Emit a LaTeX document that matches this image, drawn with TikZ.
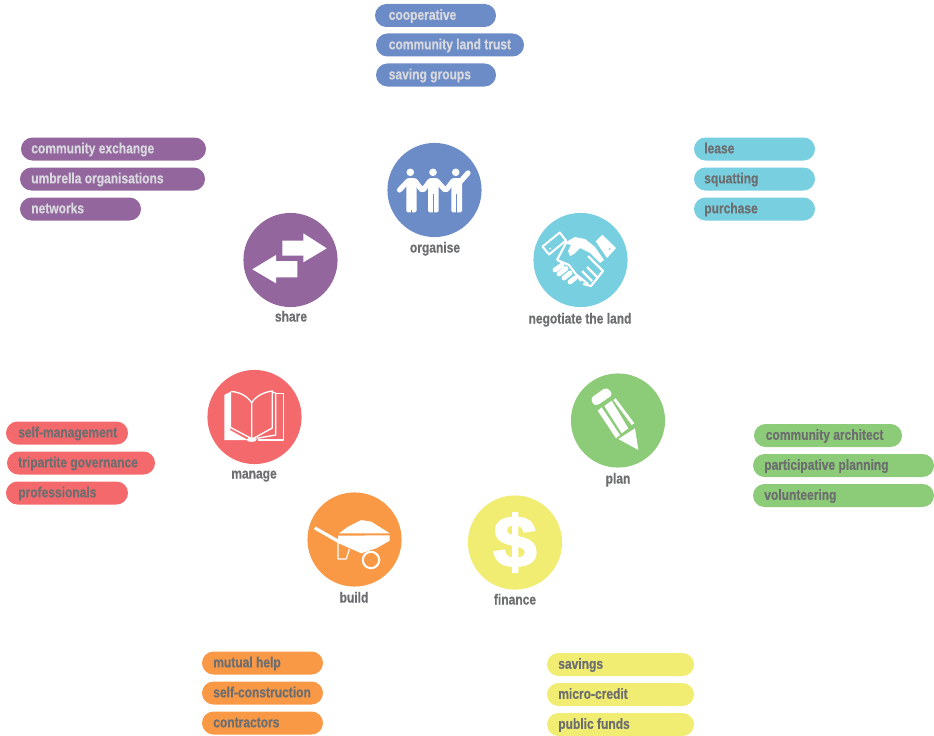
\documentclass[tikz,border=0pt]{standalone}
\usepackage{fontspec}
\setmainfont{Liberation Sans}[FakeStretch=0.82,BoldFeatures={FakeBold=0.5}]
\newfontfamily\dolfont{Liberation Sans}[FakeStretch=1.08,BoldFeatures={FakeBold=3}]
\definecolor{cblue}{HTML}{6C8CC8}
\definecolor{ccyan}{HTML}{78CFE0}
\definecolor{cpurple}{HTML}{93679E}
\definecolor{cred}{HTML}{F46A6C}
\definecolor{cgreen}{HTML}{8CCB78}
\definecolor{corange}{HTML}{F99845}
\definecolor{cyellow}{HTML}{F1EC72}
\definecolor{tgray}{HTML}{6D6E70}
\definecolor{tlight}{HTML}{D8D8DE}
\tikzset{
  disc/.style={circle,inner sep=0pt,minimum size=70.6pt},
  lbl/.style={font=\bfseries\fontsize{11}{12}\selectfont,text=tgray,inner sep=0pt,anchor=base},
  pilltext/.style={font=\bfseries\fontsize{11}{12}\selectfont,inner sep=0pt,anchor=base west},
  pillbar/.style={rounded corners=8.6pt,line width=0pt},
  ic/.style={fill=white,draw=none},
  il/.style={draw=white,line width=1pt,fill=none,line join=round},
  limb/.style={draw=white,line width=3.9pt,line cap=round},
}
\newcommand{\pill}[8]{% name, x0, x1, ycenter, colour, text colour, text x, text
  \path[pillbar,fill=#5] (#2,#4-11.5) rectangle (#3,#4+11.5);
  \node[pilltext,text=#6] (#1) at (#7,#4+4.3) {#8};
}
\begin{document}
\begin{tikzpicture}[x=0.75pt,y=-0.75pt]
\useasboundingbox (0,0) rectangle (934,735);
% discs
\node[disc,fill=cblue] (org) at (434.5,190) {};
\node[disc,fill=ccyan] (neg) at (580.5,260) {};
\node[disc,fill=cpurple] (sha) at (290.5,260) {};
\node[disc,fill=cred] (man) at (254.5,417) {};
\node[disc,fill=cgreen] (pla) at (618,420.5) {};
\node[disc,fill=corange] (bui) at (354.5,539.5) {};
\node[disc,fill=cyellow] (fin) at (515,542.5) {};
% captions
\node[lbl] (lorg) at (435,252.5) {organise};
\node[lbl] (lneg) at (580,323.5) {negotiate the land};
\node[lbl] (lsha) at (291,321.5) {share};
\node[lbl] (lman) at (254,478.5) {manage};
\node[lbl] (lpla) at (618,483.5) {plan};
\node[lbl] (lbui) at (354,602.5) {build};
\node[lbl] (lfin) at (515,604.5) {finance};
% pills: blue
\pill{p1}{375}{496}{15.5}{cblue}{tlight}{388.5}{cooperative}
\pill{p2}{376}{524}{45}{cblue}{tlight}{388.5}{community land trust}
\pill{p3}{376}{496}{75}{cblue}{tlight}{388.5}{saving groups}
% cyan
\pill{p4}{694}{815}{149}{ccyan}{tgray}{704}{lease}
\pill{p5}{694}{815}{179}{ccyan}{tgray}{704}{squatting}
\pill{p6}{694}{815}{209}{ccyan}{tgray}{704}{purchase}
% purple
\pill{p7}{21}{206}{149}{cpurple}{tlight}{31}{community exchange}
\pill{p8}{20}{205}{179}{cpurple}{tlight}{31}{umbrella organisations}
\pill{p9}{20}{141}{209}{cpurple}{tlight}{31}{networks}
% red
\pill{p10}{6}{128}{433}{cred}{tgray}{18}{self-management}
\pill{p11}{7}{155}{463}{cred}{tgray}{18}{tripartite governance}
\pill{p12}{6}{128}{493}{cred}{tgray}{18}{professionals}
% green
\pill{p13}{754}{902}{435.5}{cgreen}{tgray}{765.5}{community architect}
\pill{p14}{753}{934}{465.5}{cgreen}{tgray}{764}{participative planning}
\pill{p15}{753}{934}{495.5}{cgreen}{tgray}{764}{volunteering}
% orange
\pill{p16}{202}{323}{663}{corange}{tgray}{213}{mutual help}
\pill{p17}{202}{323}{693}{corange}{tgray}{213}{self-construction}
\pill{p18}{202}{323}{723}{corange}{tgray}{213}{contractors}
% yellow
\pill{p19}{547}{694}{664.5}{cyellow}{tgray}{558}{savings}
\pill{p20}{547}{694}{694.5}{cyellow}{tgray}{558}{micro-credit}
\pill{p21}{547}{694}{724.5}{cyellow}{tgray}{558}{public funds}
% icon: organise
\begin{scope}[shift={(388,160)}]
\foreach \h in {22.3,45,67.7}{\fill[white] (\h,12.3) circle (3.8);}
\path[ic] (18.3,20) [rounded corners=1pt] -- (20,18) -- (27,18) -- (28.5,20) -- (28.5,52.3) -- (18.3,52.3) -- cycle;
\path[ic] (40,20) [rounded corners=1pt] -- (42,18) -- (49,18) -- (50.7,20) -- (50.7,52.3) -- (40,52.3) -- cycle;
\path[ic] (63.3,20) [rounded corners=1pt] -- (65,18) -- (72,18) -- (74,20) -- (74,52.3) -- (63.3,52.3) -- cycle;
\draw[limb] (20,21) -- (11.5,30) (27,21) -- (33.5,29.5) (42,21) -- (35.5,29.5) (49,21) -- (56.5,29.5) (65,21) -- (58.5,29.5) (72,22) -- (80,13);
\draw[draw=cblue,line width=.7pt] (45.3,34) -- (45.3,52.5) (68.6,34) -- (68.6,52.5) (23,50) -- (23,52.5);
\end{scope}
% icon: handshake
\begin{scope}[shift={(533,213)}]
\draw[il,line width=1.5pt] (9.5,33.5) -- (26.7,19.5) -- (33,27.5) -- (16,41.5) -- cycle;
\fill[white] (17,35.5) circle (1);
\path[ic] (62.7,28.3) -- (69.3,21.7) -- (83,35) -- (74,45) -- cycle;
\fill[ccyan] (76.5,36) circle (1);
\path[ic] (33,29) -- (42,24) -- (52,26) -- (62,34) -- (71,47) -- (67,50) -- (57,40) -- (47,35) -- (41,41) -- (37,43) -- (35,38) -- (38,32) -- (34,31) -- cycle;
\draw[il,line width=1.6pt] (34,28) -- (24,47) (55,43) -- (70,58) -- (58,73) -- (50,71) (44,62) -- (55,71) (49,58) -- (59,68) (54,54) -- (64,64);
\draw[il,line width=1.6pt] (24,47) -- (36,52) -- (48,68);
\draw[limb,line width=3.6pt] (22,57) -- (29,52) (26,61) -- (33,55.5) (31,65) -- (37,60) (37,69) -- (42,65);
\end{scope}
% icon: share arrows
\begin{scope}[shift={(200,200)}]
\path[ic] (82.3,40.7) -- (103.3,40.7) -- (103.3,33.3) -- (126.7,48.3) -- (103.3,62.3) -- (103.3,55.7) -- (82.3,55.7) -- cycle;
\path[ic] (97.3,61) -- (76,61) -- (76,55) -- (52.3,69.3) -- (76,83.3) -- (76,77.3) -- (97.3,77.3) -- cycle;
\end{scope}
% icon: book
\begin{scope}[shift={(215,380)}]
\path[ic] (9.3,15) -- (16,11.5) -- (16,47) -- (15,50) -- (33,60) -- (9.3,60) -- cycle;
\draw[il] (16,11.5) .. controls (25,12) and (32,16) .. (36.7,22.7) -- (36.7,58);
\draw[il] (16,47.7) -- (36,58.3);
\draw[il] (36.7,22.7) .. controls (41,16) and (49,12) .. (57.3,11) -- (57.3,48) -- (38.5,58.3);
\draw[il] (57.3,11.7) -- (60.7,13.3) -- (60.7,55) -- (41.7,58.3);
\draw[il] (60.7,13.3) -- (68.3,13.3) -- (68.3,60) -- (43,60);
\fill[white] (36.7,59.7) ellipse (5 and 2.2);
\end{scope}
% icon: pencil
\begin{scope}[shift={(585,380)}]
\path[ic] [rounded corners=1.5pt] (6,18) -- (20,8) -- (24,9) -- (27.5,15) -- (12,25.5) -- (8,24.5) -- cycle;
\path[ic] (12.7,30.7) -- (16.7,27.3) -- (35,55) -- (31,58.3) -- cycle;
\path[ic] (19.3,26) -- (26.7,20.7) -- (43.3,48.3) -- (36.7,53.3) -- cycle;
\path[ic] (28.3,20) -- (30.7,18.3) -- (49.3,43.3) -- (46.7,45) -- cycle;
\path[ic] (33.3,59) -- (50,48.3) -- (53.3,70) -- cycle;
\end{scope}
% icon: dollar
\node[inner sep=0pt,text=white,font=\dolfont\bfseries\fontsize{54}{54}\selectfont] (dol) at (515,542.5) {\$};
% icon: wheelbarrow
\begin{scope}[shift={(308,510)}]
\path[ic] (6,19.3) -- (7.5,16.5) -- (30,29.3) -- (30,25.7) -- (81.7,25.3) -- (81.7,30.7) -- (68.3,38.3) -- (53.3,43.3) -- (30,33) -- cycle;
\path[ic] (31,23.3) -- (40,16.7) -- (53.3,10) -- (63.3,11.7) -- (81.7,23.3) -- cycle;
\draw[il,line width=.9pt] (30,33) -- (30,49) -- (38.3,49) -- (41.3,39.3);
\draw[il,line width=1.6pt] (63,50) circle (8.2);
\end{scope}
\end{tikzpicture}
\end{document}
